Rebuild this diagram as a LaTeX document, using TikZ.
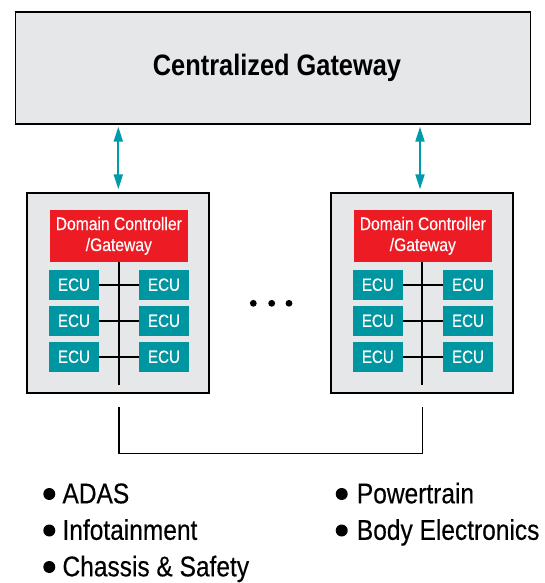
\documentclass[tikz,border=0pt]{standalone}
\usepackage{fontspec}
\setmainfont{Liberation Sans}[FakeStretch=0.86, FakeBold=0.3, BoldFeatures={FakeStretch=0.86, FakeBold=0}]
\usetikzlibrary{arrows.meta}
\definecolor{boxgray}{RGB}{230,231,233}
\definecolor{ecuteal}{RGB}{0,150,161}
\definecolor{dcred}{RGB}{237,28,36}
\definecolor{arrteal}{RGB}{0,155,168}
\tikzset{
  panel/.style={draw=black, line width=1.8pt, fill=boxgray, inner sep=0pt},
  dcbox/.style={fill=dcred, text=white, inner sep=0pt, minimum width=137.7pt, minimum height=51.7pt, align=center, font=\fontsize{18.2}{21}\selectfont},
  ecubox/.style={fill=ecuteal, text=white, inner sep=0pt, minimum width=50pt, minimum height=29.7pt, font=\fontsize{17.6}{21}\selectfont},
  bus/.style={draw=black, line width=1.6pt},
  link/.style={draw=arrteal, line width=2pt, {Triangle[width=9pt,length=15pt]}-{Triangle[width=9pt,length=15pt]}},
  bullettext/.style={anchor=base west, inner sep=0pt, font=\fontsize{28.5}{32}\selectfont},
  dot/.style={circle, fill=black, inner sep=0pt}
}
\begin{document}
\begin{tikzpicture}[x=1pt,y=-1pt]
\useasboundingbox (0,0) rectangle (545,583);
% top gateway
\node[panel, minimum width=515pt, minimum height=111.7pt] (cg) at (273,68.2) {};
\node[inner sep=0pt, font=\bfseries\fontsize{29.5}{34}\selectfont] (cgt) at (277,68.2) {Centralized Gateway};
% domain panels
\node[panel, minimum width=182.3pt, minimum height=200pt] (pl) at (117.9,292.7) {};
\node[panel, minimum width=182pt, minimum height=200pt] (pr) at (421.7,292.7) {};
% red controllers
\node[dcbox] (dcl) at (118.8,235.8) {Domain Controller\\/Gateway};
\node[dcbox] (dcr) at (422.8,235.8) {Domain Controller\\/Gateway};
% ECUs left
\node[ecubox] (l1a) at (74,284.7) {ECU};
\node[ecubox] (l1b) at (164,284.7) {ECU};
\node[ecubox] (l2a) at (74,320.8) {ECU};
\node[ecubox] (l2b) at (164,320.8) {ECU};
\node[ecubox] (l3a) at (74,356.8) {ECU};
\node[ecubox] (l3b) at (164,356.8) {ECU};
% ECUs right
\node[ecubox] (r1a) at (377.8,284.7) {ECU};
\node[ecubox] (r1b) at (468,284.7) {ECU};
\node[ecubox] (r2a) at (377.8,320.8) {ECU};
\node[ecubox] (r2b) at (468,320.8) {ECU};
\node[ecubox] (r3a) at (377.8,356.8) {ECU};
\node[ecubox] (r3b) at (468,356.8) {ECU};
% buses
\coordinate (bl) at (118.7,385);
\coordinate (br) at (421.7,385);
\draw[bus] (dcl.south -| bl) -- (bl);
\draw[bus] (dcr.south -| br) -- (br);
\draw[bus] (l1a) -- (l1b);
\draw[bus] (l2a) -- (l2b);
\draw[bus] (l3a) -- (l3b);
\draw[bus] (r1a) -- (r1b);
\draw[bus] (r2a) -- (r2b);
\draw[bus] (r3a) -- (r3b);
% arrows
\coordinate (al1) at (118.3,126.7);
\coordinate (al2) at (118.3,189.3);
\coordinate (ar1) at (420,126.7);
\coordinate (ar2) at (420,189.3);
\draw[link] (al1) -- (al2);
\draw[link] (ar1) -- (ar2);
% bottom bracket
\coordinate (kl) at (119.2,407);
\coordinate (kr) at (422.3,407);
\draw[draw=black, line width=1.5pt] (kl) -- (119.2,453.3) -- (422.3,453.3) -- (kr);
% ellipsis dots
\node[dot, minimum size=6.8pt] (d1) at (253.3,303.3) {};
\node[dot, minimum size=6.8pt] (d2) at (271.7,303.3) {};
\node[dot, minimum size=6.8pt] (d3) at (289,303.3) {};
% bullets
\node[dot, minimum size=12pt] (b1) at (49.3,494) {};
\node[dot, minimum size=12pt] (b2) at (49.3,530.5) {};
\node[dot, minimum size=12pt] (b3) at (49.3,567) {};
\node[dot, minimum size=12pt] (b4) at (341.7,494) {};
\node[dot, minimum size=12pt] (b5) at (341.7,530.5) {};
\node[bullettext] (t1) at (62.3,503.3) {ADAS};
\node[bullettext] (t2) at (62.3,539.8) {Infotainment};
\node[bullettext] (t3) at (62.3,576.3) {Chassis \& Safety};
\node[bullettext] (t4) at (356.7,503.3) {Powertrain};
\node[bullettext] (t5) at (356.7,539.8) {Body Electronics};
\end{tikzpicture}
\end{document}
